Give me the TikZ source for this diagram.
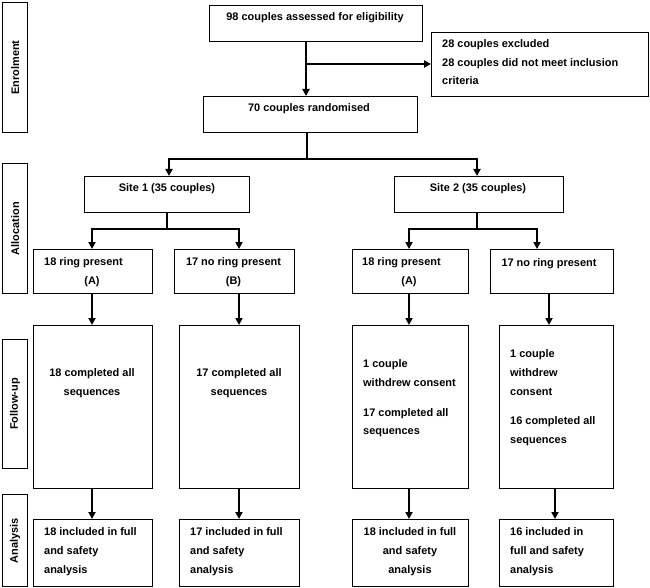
\documentclass[tikz,border=0pt]{standalone}
\usepackage{fontspec}
\setmainfont{Liberation Sans}
\usetikzlibrary{arrows.meta}
\tikzset{
  box/.style={draw=black, line width=1.2bp, rectangle, inner sep=0pt, anchor=north west},
  txt/.style={inner sep=0pt, font=\fontsize{11}{19}\selectfont\bfseries, text=black},
  side/.style={inner sep=0pt, font=\fontsize{11}{13}\selectfont\bfseries, text=black, rotate=90},
  conn/.style={line width=1.8bp, draw=black},
  arr/.style={conn, -{Triangle[length=7bp,width=7bp]}}
}
\newcommand{\bx}[5]{\node[box, minimum width=#4bp-#2bp, minimum height=#5bp-#3bp] (#1) at (#2,#3) {};}
\begin{document}
\begin{tikzpicture}[x=1bp,y=-1bp]
\useasboundingbox (0,0) rectangle (650,588);
% side labels
\bx{lE}{2}{2}{27}{132}
\bx{lAl}{2}{163}{27}{293}
\bx{lF}{2}{339}{27}{468}
\bx{lAn}{2}{494}{27}{586}
\node[side] (sE) at (lE.center) {Enrolment};
\node[side] (sAl) at (lAl.center) {Allocation};
\node[side] (sF) at (lF.center) {Follow-up};
\node[side] (sAn) at (lAn.center) {Analysis};
% boxes
\bx{b98}{209}{5}{422}{41}
\bx{bex}{431}{32}{648}{96}
\bx{b70}{203}{96}{417}{132}
\bx{bs1}{84}{176}{249}{212}
\bx{bs2}{394}{176}{563}{212}
\bx{bA1}{33}{249}{152}{293}
\bx{bB1}{174}{249}{294}{293}
\bx{bA2}{352}{249}{468}{293}
\bx{bB2}{490}{249}{613}{293}
\bx{fA1}{33}{325}{152}{488}
\bx{fB1}{179}{325}{299}{488}
\bx{fA2}{352}{325}{468}{488}
\bx{fB2}{499}{325}{613}{488}
\bx{aA1}{33}{519}{152}{586}
\bx{aB1}{179}{519}{299}{586}
\bx{aA2}{352}{519}{468}{586}
\bx{aB2}{499}{519}{613}{586}
% texts
\node[txt, anchor=north] (t98) at (315,12) {98 couples assessed for eligibility};
\node[txt, anchor=north west, align=left] (tex) at (442,39) {28 couples excluded\\28 couples did not meet inclusion\\criteria};
\node[txt, anchor=north] (t70) at (309,103.5) {70 couples randomised};
\node[txt, anchor=north] (ts1) at (167,183) {Site 1 (35 couples)};
\node[txt, anchor=north] (ts2) at (478,183) {Site 2 (35 couples)};
\node[txt, anchor=north, align=center] (tA1) at (92,257) {18 ring present\hspace*{17bp}\\(A)};
\node[txt, anchor=north, align=center] (tB1) at (233.5,257) {17 no ring present\\(B)};
\node[txt, anchor=north, align=center] (tA2) at (409,257) {18 ring present\hspace*{15bp}\\(A)};
\node[txt, anchor=north] (tB2) at (549,258) {17 no ring present};
\node[txt, anchor=north, align=center] (uA1) at (92,368) {18 completed all\\sequences};
\node[txt, anchor=north, align=center] (uB1) at (239,368) {17 completed all\\sequences};
\node[txt, anchor=north west, align=left] (uA2) at (363,359) {1 couple\\withdrew consent\\[11bp]17 completed all\\sequences};
\node[txt, anchor=north west, align=left] (uB2) at (510,349) {1 couple\\withdrew\\consent\\[11bp]16 completed all\\sequences};
\node[txt, anchor=north west, align=left] (nA1) at (44,527) {18 included in full\\and safety\\analysis};
\node[txt, anchor=north west, align=left] (nB1) at (190,527) {17 included in full\\and safety\\analysis};
\node[txt, anchor=north, align=center] (nA2) at (410,527) {18 included in full\\and safety\\analysis};
\node[txt, anchor=north west, align=left] (nB2) at (510,527) {16 included in\\full and safety\\analysis};
% junction coordinates
\coordinate (j1) at (306,64);
\coordinate (j2) at (307,159);
\coordinate (k1) at (169,159);
\coordinate (k2) at (477,159);
\coordinate (j3) at (167,229);
\coordinate (k3) at (92,229);
\coordinate (k4) at (239,229);
\coordinate (j4) at (477,229);
\coordinate (k5) at (409,229);
\coordinate (k6) at (537,229);
\coordinate (k7) at (549,300);
\coordinate (k8) at (555,500);
% connectors
\draw[arr] (b98.south -| j1) -- (b70.north -| j1);
\draw[arr] (j1) -- (j1 -| bex.west);
\draw[conn] (b70.south -| j2) -- (j2);
\draw[arr] (j2) -- (k1) -- (k1 |- bs1.north);
\draw[arr] (j2) -- (k2) -- (k2 |- bs2.north);
\draw[conn] (bs1.south -| j3) -- (j3);
\draw[arr] (j3) -- (k3) -- (k3 |- bA1.north);
\draw[arr] (j3) -- (k4) -- (k4 |- bB1.north);
\draw[conn] (bs2.south -| j4) -- (j4);
\draw[arr] (j4) -- (k5) -- (k5 |- bA2.north);
\draw[arr] (j4) -- (k6) -- (k6 |- bB2.north);
\draw[arr] (bA1.south -| k3) -- (fA1.north -| k3);
\draw[arr] (bB1.south -| k4) -- (fB1.north -| k4);
\draw[arr] (bA2.south -| k5) -- (fA2.north -| k5);
\draw[arr] (bB2.south -| k7) -- (fB2.north -| k7);
\draw[arr] (fA1.south -| k3) -- (aA1.north -| k3);
\draw[arr] (fB1.south -| k4) -- (aB1.north -| k4);
\draw[arr] (fA2.south -| k5) -- (aA2.north -| k5);
\draw[arr] (fB2.south -| k8) -- (aB2.north -| k8);
\end{tikzpicture}
\end{document}
